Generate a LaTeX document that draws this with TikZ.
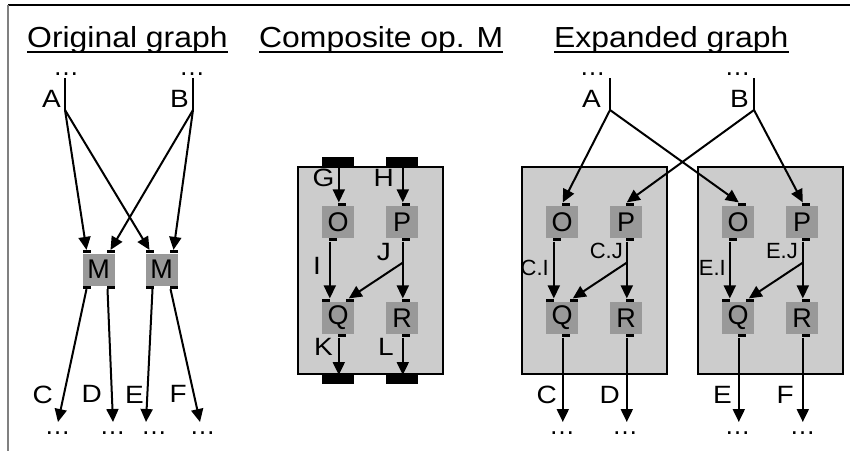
\documentclass[tikz,border=0pt]{standalone}
\usepackage{fontspec}
\setmainfont{Liberation Sans}
\usetikzlibrary{arrows.meta}
\definecolor{opgray}{HTML}{999999}
\definecolor{boxgray}{HTML}{CCCCCC}
\definecolor{framegray}{HTML}{808080}
\newcommand\lblfont{\fontsize{25}{25}\selectfont}
\newcommand\smlfont{\fontsize{22}{22}\selectfont}
\newcommand\opfont{\fontsize{27}{27}\selectfont}
\newcommand\dotfont{\fontsize{26}{26}\selectfont}
\newcommand\ttlfont{\fontsize{29}{29}\selectfont}
\newcommand\sx[1]{\scalebox{1.12}[1]{#1}}
\tikzset{
  op/.style={fill=opgray, minimum width=32pt, minimum height=32pt, inner sep=0pt, font=\opfont},
  port/.style={fill=black, minimum width=8pt, minimum height=3pt, inner sep=0pt},
  bar/.style={fill=black, minimum width=32pt, minimum height=9pt, inner sep=0pt},
  arr/.style={line width=2pt, -{Triangle[length=13pt,width=12pt]}},
  wire/.style={line width=2pt},
  lbl/.style={font=\lblfont, inner sep=0pt, anchor=base east},
  sml/.style={font=\smlfont, inner sep=0pt, anchor=base east},
  dots/.style={font=\dotfont, inner sep=0pt, anchor=base},
  ttl/.style={font=\ttlfont, inner sep=0pt, anchor=base west},
  container/.style={fill=boxgray, draw=black, line width=2pt, inner sep=0pt,
    minimum width=145pt, minimum height=207pt, anchor=north west},
}
% cluster of O,P,Q,R inside a grey box (composite frame coordinates)
\newcommand\clusterbody{%
  \node[container] (box) at (297,166) {};
  \node[op] (O) at (338,222) {O};
  \node[op] (P) at (402,222) {P};
  \node[op] (Q) at (338,318) {Q};
  \node[op] (R) at (402,318) {R};
  \node[port, anchor=south west] (Oi) at ([xshift=16pt]O.north west) {};
  \node[port, anchor=north west] (Oo) at ([xshift=7pt]O.south west) {};
  \node[port, anchor=south west] (Pi) at ([xshift=16pt]P.north west) {};
  \node[port, anchor=north west] (Po) at ([xshift=16pt]P.south west) {};
  \node[port, anchor=south west] (Qil) at (Q.north west) {};
  \node[port, anchor=south east] (Qir) at (Q.north east) {};
  \node[port, anchor=north west] (Qo) at ([xshift=16pt]Q.south west) {};
  \node[port, anchor=south west] (Ri) at ([xshift=16pt]R.north west) {};
  \node[port, anchor=north west] (Ro) at ([xshift=16pt]R.south west) {};
  \coordinate (Jsplit) at ([xshift=1pt,yshift=-21pt]Po.south west);
  \draw[arr] ([xshift=1pt]Oo.south west) -- ([xshift=1pt]Oo.south west |- Qil.north);
  \draw[arr] ([xshift=1pt]Po.south west) -- ([xshift=1pt]Ri.north west);
  \draw[arr] (Jsplit) -- ([xshift=3pt]Qir.north west);
}
\begin{document}
\begin{tikzpicture}[x=1pt, y=-1pt]
\useasboundingbox (0,0) rectangle (850,451);
% frame
\draw[line width=1.5pt] (8,5) -- (850,5);
\draw[framegray, line width=2pt] (8,5) -- (8,451);

% titles
\node[ttl] (t1) at (27,47) {\scalebox{1.1}[1]{Original graph}};
\node[ttl] (t2) at (259,47) {\scalebox{1.1}[1]{Composite op. M}};
\node[ttl] (t3) at (554,47) {\scalebox{1.1}[1]{Expanded graph}};
\foreach \t in {t1,t2,t3}
  \draw[line width=1.5pt] ([yshift=-5pt]\t.base west) -- ([yshift=-5pt]\t.base east);

%%%%%%%%%%%% Original graph
\node[dots] (dA) at (66,75) {…};
\node[dots] (dB) at (192,75) {…};
\node[lbl] (lA) at (61,107) {\sx{A}};
\node[lbl] (lB) at (189,107) {\sx{B}};
\coordinate (aTop) at (65,78);
\coordinate (aSplit) at (65,110);
\coordinate (bTop) at (193,78);
\coordinate (bSplit) at (193,110);
\draw[wire] (aTop) -- (aSplit);
\draw[wire] (bTop) -- (bSplit);

\node[op] (M1) at (98.5,269.5) {M};
\node[op] (M2) at (161.5,269.5) {M};
\foreach \m in {M1,M2}{
  \node[port, anchor=south west] (\m a) at (\m.north west) {};
  \node[port, anchor=south east] (\m b) at (\m.north east) {};
  \node[port, anchor=north west] (\m c) at (\m.south west) {};
  \node[port, anchor=north east] (\m d) at (\m.south east) {};
}
\draw[arr] (aSplit) -- (M1a.north);
\draw[arr] (aSplit) -- (M2a.north);
\draw[arr] (bSplit) -- (M1b.north);
\draw[arr] (bSplit) -- (M2b.north);

\coordinate (oC) at (58,422);
\coordinate (oD) at (113,422);
\coordinate (oE) at (146,422);
\coordinate (oF) at (200,422);
\draw[arr] (M1c.south) -- (oC);
\draw[arr] ([xshift=-3pt]M1d.south) -- (oD);
\draw[arr] ([xshift=3pt]M2c.south) -- (oE);
\draw[arr] ([xshift=-3pt]M2d.south) -- (oF);
\node[lbl] (lC) at (53,403) {\sx{C}};
\node[lbl] (lD) at (102,402) {\sx{D}};
\node[lbl] (lE) at (144,403) {\sx{E}};
\node[lbl] (lF) at (187,402) {\sx{F}};
\node[dots] (dC) at (57.5,434) {…};
\node[dots] (dD) at (112.5,434) {…};
\node[dots] (dE) at (154,434) {…};
\node[dots] (dF) at (202.5,434) {…};

%%%%%%%%%%%% Composite op. M
\begin{scope}[name prefix=c-]
  \clusterbody
  \node[bar, anchor=south] (bG) at (O.center |- box.north) {};
  \node[bar, anchor=south] (bH) at (P.center |- box.north) {};
  \node[bar, anchor=north] (bK) at (Q.center |- box.south) {};
  \node[bar, anchor=north] (bL) at (R.center |- box.south) {};
  \draw[arr] ([xshift=1pt]Oi.north west |- bG.south) -- ([xshift=1pt]Oi.north west);
  \draw[arr] ([xshift=1pt]Pi.north west |- bH.south) -- ([xshift=1pt]Pi.north west);
  \draw[arr] ([xshift=1pt]Qo.south west) -- ([xshift=1pt]Qo.south west |- bK.north);
  \draw[arr] ([xshift=1pt]Ro.south west) -- ([xshift=1pt]Ro.south west |- bL.north);
  \node[lbl] (lG) at (334.5,186) {\sx{G}};
  \node[lbl] (lH) at (394,186) {\sx{H}};
  \node[lbl] (lI) at (321,274) {\sx{I}};
  \node[lbl] (lJ) at (391,260) {\sx{J}};
  \node[lbl] (lK) at (333,355) {\sx{K}};
  \node[lbl] (lL) at (394,355) {\sx{L}};
\end{scope}

%%%%%%%%%%%% Expanded graph
\begin{scope}[xshift=224pt, name prefix=l-]
  \clusterbody
  \node[sml] (lI) at (325,275) {C.I};
  \node[sml] (lJ) at (399,258) {C.J};
\end{scope}
\begin{scope}[xshift=400pt, name prefix=r-]
  \clusterbody
  \node[sml] (lI) at (326,275) {E.I};
  \node[sml] (lJ) at (398,258) {E.J};
\end{scope}

\node[dots] (eA) at (592.5,75) {…};
\node[dots] (eB) at (737.5,75) {…};
\node[lbl] (elA) at (601,107) {\sx{A}};
\node[lbl] (elB) at (749,107) {\sx{B}};
\coordinate (eaTop) at (610,78);
\coordinate (eaSplit) at (610,110);
\coordinate (ebTop) at (754,78);
\coordinate (ebSplit) at (754,110);
\draw[wire] (eaTop) -- (eaSplit);
\draw[wire] (ebTop) -- (ebSplit);
\draw[arr] (eaSplit) -- ([xshift=1pt]l-Oi.north west);
\draw[arr] (eaSplit) -- ([xshift=1pt]r-Oi.north west);
\draw[arr] (ebSplit) -- ([xshift=1pt]l-Pi.north west);
\draw[arr] (ebSplit) -- ([xshift=1pt]r-Pi.north west);

\coordinate (eEnd) at (0,422);
\draw[arr] ([xshift=1pt]l-Qo.south west) -- ([xshift=1pt]l-Qo.south west |- eEnd);
\draw[arr] ([xshift=1pt]l-Ro.south west) -- ([xshift=1pt]l-Ro.south west |- eEnd);
\draw[arr] ([xshift=1pt]r-Qo.south west) -- ([xshift=1pt]r-Qo.south west |- eEnd);
\draw[arr] ([xshift=1pt]r-Ro.south west) -- ([xshift=1pt]r-Ro.south west |- eEnd);
\node[lbl] (elC) at (557,403) {\sx{C}};
\node[lbl] (elD) at (620,403) {\sx{D}};
\node[lbl] (elE) at (732,403) {\sx{E}};
\node[lbl] (elF) at (794,403) {\sx{F}};
\node[dots] (edC) at (562,434) {…};
\node[dots] (edD) at (625,434) {…};
\node[dots] (edE) at (737.5,434) {…};
\node[dots] (edF) at (802.5,434) {…};
\end{tikzpicture}
\end{document}
